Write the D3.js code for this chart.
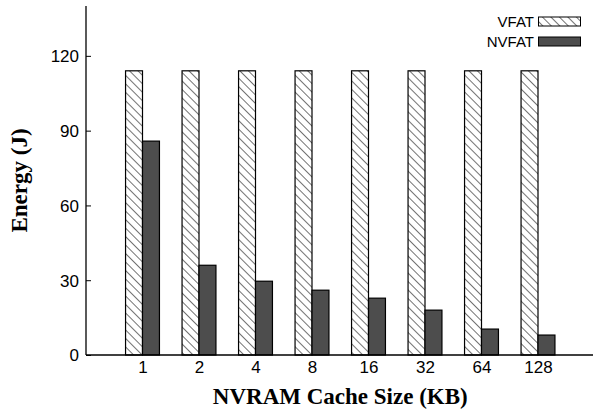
<!DOCTYPE html>
<html>
<head>
<meta charset="utf-8">
<script src="https://cdn.jsdelivr.net/npm/d3@7"></script>
<style>
  body { margin: 0; background: #ffffff; }
  svg { display: block; }
</style>
</head>
<body>
<div id="chart"></div>
<script>
const categories = ['1', '2', '4', '8', '16', '32', '64', '128'];
const vfat = [114, 114, 114, 114, 114, 114, 114, 114];
const nvfat = [85.8, 36, 29.6, 26, 22.8, 18, 10.4, 8];
const yTicks = [0, 30, 60, 90, 120];
const seriesNames = ['VFAT', 'NVFAT'];

const SANS = '"Liberation Sans", Arial, Helvetica, sans-serif';
const SERIF = '"Liberation Serif", "Times New Roman", serif';

const width = 593, height = 411;
const margin = { top: 6, right: 0, bottom: 56, left: 86 };

const xScale = d3.scaleLinear().domain([0, categories.length + 1]).range([margin.left, 594.5]);
const yScale = d3.scaleLinear().domain([0, 140]).range([height - margin.bottom, margin.top]);
const barW = xScale(0.3) - xScale(0);

const svg = d3.select('#chart')
    .append('svg')
    .attr('width', width)
    .attr('height', height);

// hatch for the VFAT bars (lines running top-left to bottom-right)
const pattern = svg.append('defs').append('pattern')
    .attr('id', 'hatch')
    .attr('patternUnits', 'userSpaceOnUse')
    .attr('width', 6)
    .attr('height', 6)
    .attr('patternTransform', 'rotate(45)');
pattern.append('rect').attr('width', 6).attr('height', 6).attr('fill', '#fff');
pattern.append('line')
    .attr('x1', 0).attr('y1', 0).attr('x2', 6).attr('y2', 0)
    .attr('stroke', '#000').attr('stroke-width', 1.1);

// bars
const g = svg.append('g');
categories.forEach((c, i) => {
    const cx = xScale(i + 1);
    g.append('rect')
        .attr('x', cx - barW)
        .attr('y', yScale(vfat[i]))
        .attr('width', barW)
        .attr('height', yScale(0) - yScale(vfat[i]))
        .attr('fill', 'url(#hatch)')
        .attr('stroke', '#000')
        .attr('stroke-width', 1.2);
    g.append('rect')
        .attr('x', cx)
        .attr('y', yScale(nvfat[i]))
        .attr('width', barW)
        .attr('height', yScale(0) - yScale(nvfat[i]))
        .attr('fill', '#4d4d4d')
        .attr('stroke', '#000')
        .attr('stroke-width', 1.2);
});

// Y axis, ticks pointing into the plot
svg.append('g')
    .attr('class', 'y axis')
    .attr('transform', `translate(${margin.left},0)`)
    .call(d3.axisRight(yScale).tickValues(yTicks).tickSize(5).tickFormat(d3.format('d')))
    .attr('font-family', SANS)
    .attr('font-size', 17)
    .call(g => g.select('.domain').remove())
    .call(g => g.selectAll('.tick line').attr('stroke', '#000'))
    .call(g => g.selectAll('.tick text').attr('x', -7).attr('text-anchor', 'end').attr('dy', '0.35em').attr('fill', '#000'));

svg.append('line')
    .attr('x1', margin.left).attr('x2', margin.left)
    .attr('y1', yScale(0)).attr('y2', yScale(140))
    .attr('stroke', '#000').attr('stroke-width', 1.3);

// X axis, labels only
svg.append('g')
    .attr('class', 'x axis')
    .attr('transform', `translate(0,${yScale(0)})`)
    .call(d3.axisBottom(xScale).tickValues(d3.range(1, categories.length + 1)).tickSize(0).tickFormat(d => categories[d - 1]))
    .attr('font-family', SANS)
    .attr('font-size', 17)
    .call(g => g.select('.domain').remove())
    .call(g => g.selectAll('.tick text').attr('y', 0).attr('dy', '1.05em').attr('fill', '#000'));

svg.append('line')
    .attr('x1', margin.left).attr('x2', width)
    .attr('y1', yScale(0)).attr('y2', yScale(0))
    .attr('stroke', '#000').attr('stroke-width', 1.3);

// axis titles
svg.append('text')
    .attr('x', (margin.left + 594.5) / 2)
    .attr('y', 404)
    .attr('text-anchor', 'middle')
    .attr('font-family', SERIF)
    .attr('font-weight', 'bold')
    .attr('font-size', 23)
    .text('NVRAM Cache Size (KB)');

svg.append('text')
    .attr('transform', `translate(27,${(yScale(0) + yScale(140)) / 2}) rotate(-90)`)
    .attr('text-anchor', 'middle')
    .attr('font-family', SERIF)
    .attr('font-weight', 'bold')
    .attr('font-size', 23)
    .text('Energy (J)');

// legend
const legend = svg.append('g');
seriesNames.forEach((name, i) => {
    const y = 17 + i * 20;
    legend.append('text')
        .attr('x', 534)
        .attr('y', y + 9.8)
        .attr('text-anchor', 'end')
        .attr('font-family', SANS)
        .attr('font-size', 15)
        .text(name);
    legend.append('rect')
        .attr('x', 538.5)
        .attr('y', y)
        .attr('width', 42)
        .attr('height', 9)
        .attr('fill', i === 0 ? 'url(#hatch)' : '#4d4d4d')
        .attr('stroke', '#000')
        .attr('stroke-width', 1);
});
</script>
</body>
</html>
